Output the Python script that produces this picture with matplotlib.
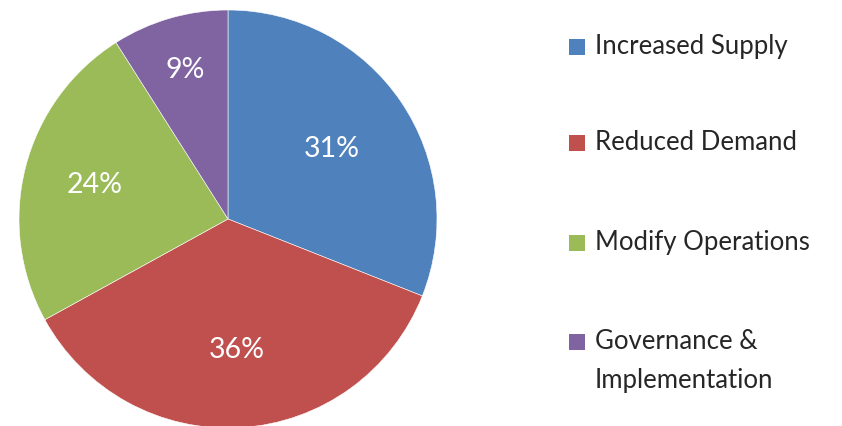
import numpy as np
import matplotlib
matplotlib.use("Agg")
import matplotlib.pyplot as plt
from matplotlib.patches import Rectangle

categories = ["Increased Supply", "Reduced Demand", "Modify Operations", "Governance &\nImplementation"]
values = [31, 36, 24, 9]
colors = ["#4F81BD", "#C0504D", "#9BBB59", "#8064A2"]
label_radius = [0.60, 0.63, 0.66, 0.74]

plt.rcParams['font.family'] = ['Lato', 'DejaVu Sans']

fig = plt.figure(figsize=(8.42, 4.26), dpi=100)
ax = fig.add_axes([19/842, -2/426, 418/842, 418/426])
wedges, _ = ax.pie(values, colors=colors, startangle=90, counterclock=False,
                   radius=1, wedgeprops=dict(edgecolor='white', linewidth=0.4))
ax.set_xlim(-1, 1)
ax.set_ylim(-1, 1)
ax.set_aspect('equal')
ax.axis('off')

total = sum(values)
for w, v, r in zip(wedges, values, label_radius):
    ang = np.deg2rad((w.theta1 + w.theta2) / 2)
    ax.text(r * np.cos(ang), r * np.sin(ang), f"{round(100 * v / total)}%",
            ha='center', va='center', color='white', fontsize=20.5)

# legend
row_y = [47, 143, 243, 342]
sq = 16
for y, lab, c in zip(row_y, categories, colors):
    fig.patches.append(Rectangle((569/842, 1 - (y + sq/2)/426), sq/842, sq/426,
                                 transform=fig.transFigure, facecolor=c, edgecolor='none'))
    first_line_top = y - 13
    fig.text(595/842, 1 - first_line_top/426, lab, ha='left', va='top',
             fontsize=18.5, color='#262626', linespacing=1.68)

fig.savefig("out.png", dpi=100, facecolor='white')
